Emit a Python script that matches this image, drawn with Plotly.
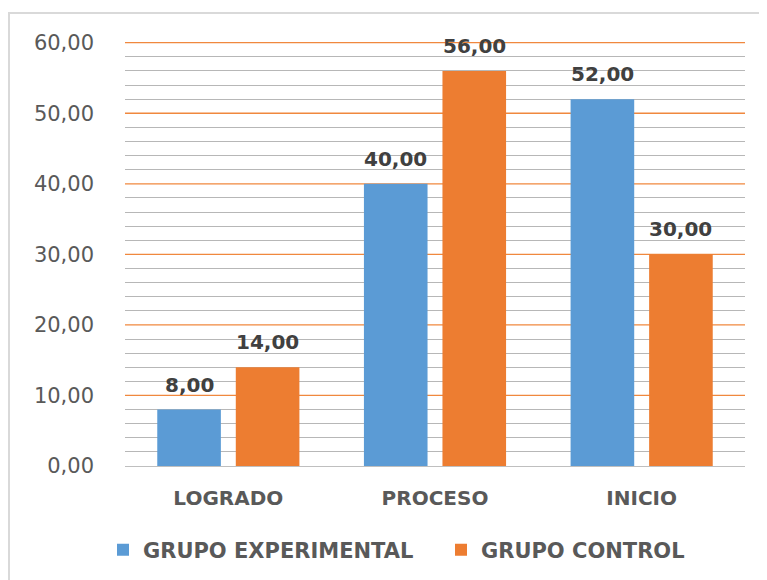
import plotly.graph_objects as go

categories = ["LOGRADO", "PROCESO", "INICIO"]
grupo_experimental = [8.00, 40.00, 52.00]
grupo_control = [14.00, 56.00, 30.00]
y_ticks = [0, 10, 20, 30, 40, 50, 60]
y_tick_labels = ["0,00", "10,00", "20,00", "30,00", "40,00", "50,00", "60,00"]

def fmt(v):
    return f"{v:.2f}".replace(".", ",")

FONT = "DejaVu Sans"
W, H = 767, 580
OFF = 8  # page body margin
ml, mt = 125 - OFF, 42 - OFF
pw, ph = 620, 424
mr = W - ml - pw
mb = H - mt - ph
BARGAP, BARGROUPGAP = 0.24, 0.19

minor_vals = [v for v in range(0, 61, 2) if v % 10 != 0]

fig = go.Figure()
series = [("GRUPO EXPERIMENTAL", grupo_experimental, "#5B9BD5"),
          ("GRUPO CONTROL", grupo_control, "#ED7D31")]
for name, vals, col in series:
    fig.add_trace(go.Bar(
        name=name, x=categories, y=vals,
        marker=dict(color=col, line=dict(width=0)),
    ))

# data labels placed above each bar, offset to its slot in the group
cat_px = pw / len(categories)
slot_px = cat_px * (1 - BARGAP) / len(series)
for i, (name, vals, col) in enumerate(series):
    xs = (i - (len(series) - 1) / 2) * slot_px
    for c, v in zip(categories, vals):
        fig.add_annotation(x=c, y=v, xref="x", yref="y", text=fmt(v), showarrow=False,
                           xshift=xs, yshift=25, yanchor="middle",
                           font=dict(family=FONT, size=20, color="#404040", weight="bold"))

# outer chart border
fig.add_shape(type="rect", xref="paper", yref="paper",
              x0=(9 - OFF - ml) / pw, x1=(W + 20 - ml) / pw,
              y0=-(H + 20 - mt - ph) / ph, y1=1 + (mt - (13 - OFF)) / ph,
              line=dict(color="#D9D9D9", width=2), fillcolor="rgba(0,0,0,0)",
              layer="below")

# orange major gridlines (drawn over the grey minor grid, under the bars)
for v in y_ticks[1:]:
    fig.add_shape(type="line", xref="paper", yref="y", x0=0, x1=1, y0=v, y1=v,
                  line=dict(color="#F0883E", width=1.3), layer="between")

fig.update_layout(
    width=W, height=H,
    margin=dict(l=ml, r=mr, t=mt, b=mb, autoexpand=False),
    paper_bgcolor="white", plot_bgcolor="white",
    barmode="group", bargap=BARGAP, bargroupgap=BARGROUPGAP,
    font=dict(family=FONT, color="#595959"),
    showlegend=True,
    legend=dict(orientation="h", x=(103 - 125) / pw, xanchor="left",
                y=-(550 - 466) / ph, yanchor="middle",
                font=dict(family=FONT, size=21, color="#595959", weight="bold"),
                itemwidth=30, traceorder="normal",
                entrywidth=293, entrywidthmode="pixels"),
    xaxis=dict(showgrid=False, showline=True, linecolor="#BFBFBF", linewidth=1,
               automargin=False,
               ticks="", tickfont=dict(family=FONT, size=20, color="#595959", weight="bold"),
               ticklabelstandoff=14),
    yaxis=dict(range=[0, 60.1], tickvals=y_ticks, ticktext=y_tick_labels,
               automargin=False,
               tickfont=dict(family=FONT, size=21, color="#595959"),
               showgrid=False,
               zeroline=False, showline=False, ticks="", ticklabelstandoff=30,
               minor=dict(tickvals=minor_vals, showgrid=True, gridcolor="#B7B7B7", gridwidth=1)),
)

fig.write_html("out.html")
